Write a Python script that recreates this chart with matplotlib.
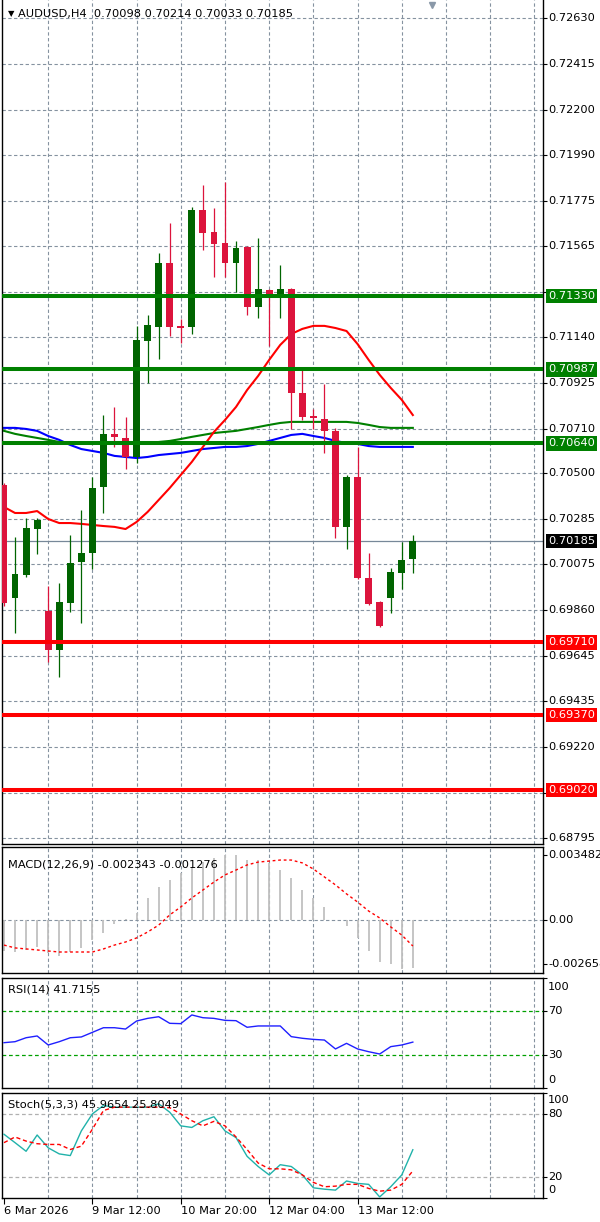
import matplotlib
matplotlib.use('Agg')
import matplotlib.pyplot as plt
import numpy as np

# ---------------- data (AUDUSD H4, 38 bars) ----------------
opens = [0.70446, 0.69918, 0.70025, 0.70240, 0.69857, 0.69674, 0.69894, 0.70086,
         0.70128, 0.70437, 0.70685, 0.70666, 0.70577, 0.71120, 0.71185, 0.71484,
         0.71190, 0.71185, 0.71732, 0.71629, 0.71578, 0.71484, 0.71559, 0.71278,
         0.71358, 0.71335, 0.71363, 0.70876, 0.70769, 0.70755, 0.70699, 0.70250,
         0.70483, 0.70011, 0.69899, 0.69918, 0.70035, 0.70098]
highs = [0.70455, 0.70203, 0.70292, 0.70292, 0.69974, 0.69988, 0.70212, 0.70329,
         0.70483, 0.70773, 0.70811, 0.70764, 0.71190, 0.71241, 0.71531, 0.71671,
         0.71222, 0.71746, 0.71849, 0.71741, 0.71863, 0.71587, 0.71562, 0.71601,
         0.71362, 0.71475, 0.71366, 0.70993, 0.70801, 0.70918, 0.70713, 0.70493,
         0.70624, 0.70128, 0.69902, 0.70058, 0.70180, 0.70214]
lows = [0.69880, 0.69754, 0.70016, 0.70123, 0.69618, 0.69548, 0.69852, 0.69801,
        0.70053, 0.70315, 0.70624, 0.70521, 0.70549, 0.70923, 0.71035, 0.71143,
        0.71110, 0.71152, 0.71545, 0.71419, 0.71419, 0.71349, 0.71241, 0.71227,
        0.71096, 0.71227, 0.70708, 0.70750, 0.70708, 0.70596, 0.70198, 0.70147,
        0.70005, 0.69885, 0.69782, 0.69847, 0.69960, 0.70033]
closes = [0.69894, 0.70030, 0.70245, 0.70282, 0.69674, 0.69899, 0.70081, 0.70128,
          0.70432, 0.70685, 0.70670, 0.70577, 0.71124, 0.71194, 0.71484, 0.71185,
          0.71180, 0.71732, 0.71625, 0.71573, 0.71484, 0.71554, 0.71278, 0.71363,
          0.71335, 0.71363, 0.70876, 0.70764, 0.70759, 0.70699, 0.70250, 0.70483,
          0.70011, 0.69890, 0.69787, 0.70039, 0.70095, 0.70185]

ma_red = [0.70343, 0.70315, 0.70315, 0.70324, 0.70287, 0.70268, 0.70268, 0.70264,
          0.70259, 0.70254, 0.70250, 0.70240, 0.70273, 0.70320, 0.70376, 0.70432,
          0.70493, 0.70554, 0.70624, 0.70694, 0.70750, 0.70811, 0.70890, 0.70956,
          0.71031, 0.71101, 0.71152, 0.71176, 0.71190, 0.71190, 0.71180, 0.71166,
          0.71105, 0.71031, 0.70961, 0.70900, 0.70844, 0.70773]
ma_blue = [0.70713, 0.70713, 0.70708, 0.70699, 0.70675, 0.70657, 0.70633, 0.70614,
           0.70605, 0.70596, 0.70582, 0.70577, 0.70572, 0.70577, 0.70586, 0.70591,
           0.70596, 0.70605, 0.70614, 0.70619, 0.70624, 0.70624, 0.70628, 0.70638,
           0.70652, 0.70666, 0.70680, 0.70685, 0.70675, 0.70666, 0.70652, 0.70642,
           0.70638, 0.70628, 0.70624, 0.70624, 0.70624, 0.70624]
ma_green = [0.70699, 0.70685, 0.70675, 0.70666, 0.70657, 0.70647, 0.70642, 0.70642,
            0.70638, 0.70638, 0.70638, 0.70638, 0.70642, 0.70642, 0.70647, 0.70652,
            0.70661, 0.70671, 0.70680, 0.70689, 0.70694, 0.70699, 0.70708, 0.70717,
            0.70727, 0.70736, 0.70741, 0.70741, 0.70741, 0.70741, 0.70741, 0.70741,
            0.70736, 0.70727, 0.70717, 0.70713, 0.70713, 0.70713]

levels_res = [0.71330, 0.70987, 0.70640]
levels_sup = [0.69710, 0.69370, 0.69020]
bid = 0.70185

price_grid = [0.72630, 0.72415, 0.72200, 0.71990, 0.71775, 0.71565, 0.71350, 0.71140,
              0.70925, 0.70710, 0.70500, 0.70285, 0.70075, 0.69860, 0.69645, 0.69435,
              0.69220, 0.69005, 0.68795]
hidden_labels = [0.71350, 0.69005]

macd_hist = [-0.00152, -0.00157, -0.00147, -0.00132, -0.00162, -0.00177, -0.00157, -0.00137,
             -0.00098, -0.00064, -0.00020, 0.00003, 0.00034, 0.00108, 0.00162, 0.00196,
             0.00231, 0.00260, 0.00284, 0.00304, 0.00319, 0.00319, 0.00294, 0.00294,
             0.00280, 0.00245, 0.00206, 0.00147, 0.00108, 0.00064, 0.00002, -0.00029,
             -0.00088, -0.00152, -0.00206, -0.00216, -0.00238, -0.002343]
macd_signal = [-0.00123, -0.00137, -0.00142, -0.00147, -0.00152, -0.00157, -0.00157, -0.00157,
               -0.00157, -0.00142, -0.00123, -0.00108, -0.00088, -0.00059, -0.00025, 0.00025,
               0.00064, 0.00108, 0.00147, 0.00186, 0.00221, 0.00245, 0.00270, 0.00284,
               0.00289, 0.00294, 0.00294, 0.00280, 0.00250, 0.00211, 0.00172, 0.00128,
               0.00088, 0.00044, 0.00010, -0.00034, -0.00074, -0.001276]

rsi = [41.2, 42.1, 45.7, 47.3, 39.1, 42.1, 45.7, 46.4, 50.6, 54.8, 54.8, 53.6, 60.9,
       63.3, 64.8, 58.8, 58.5, 66.4, 63.9, 63.3, 61.5, 61.2, 55.2, 56.4, 56.4, 56.4,
       46.7, 45.2, 44.2, 43.6, 35.5, 40.6, 35.5, 33.0, 30.9, 37.6, 39.1, 41.7155]

stoch_k = [60.7, 52.7, 44.5, 60.0, 47.8, 42.0, 40.4, 63.9, 80.1, 88.1, 86.5, 86.5, 86.5,
           86.5, 89.7, 81.7, 68.7, 67.2, 73.6, 77.4, 63.9, 57.5, 39.7, 30.0, 22.0, 31.7,
           30.0, 22.0, 9.7, 8.4, 7.5, 16.2, 13.9, 13.0, 1.0, 10.7, 22.0, 45.9654]
stoch_d = [52.7, 58.1, 54.2, 51.7, 51.0, 51.0, 46.2, 49.4, 65.5, 83.3, 86.5, 86.5, 86.5,
           86.5, 86.5, 86.0, 80.0, 73.6, 68.7, 73.0, 68.7, 58.1, 46.2, 33.3, 27.8, 27.8,
           26.8, 22.0, 14.9, 10.7, 11.3, 13.0, 13.0, 9.1, 6.5, 7.5, 13.0, 25.8049]

date_ticks = [0, 8, 16, 24, 32]
date_labels = ['6 Mar 2026', '9 Mar 12:00', '10 Mar 20:00', '12 Mar 04:00', '13 Mar 12:00']

# ---------------- layout ----------------
W, H = 600, 1222
fig = plt.figure(figsize=(W / 100, H / 100), dpi=100)
fig.patch.set_facecolor('white')
plt.rcParams['font.family'] = 'DejaVu Sans'

GRID = '#8592a0'
BULL, BEAR = '#006400', '#dc143c'
FS = 8.2
XL = (-0.18, 48.78)
xs = np.arange(len(closes))


def pane(top, bottom):
    a = fig.add_axes([2 / W, 1 - bottom / H, 541 / W, (bottom - top) / H])
    a.set_xlim(*XL)
    a.set_xticks([])
    a.yaxis.tick_right()
    a.tick_params(axis='y', length=3, width=0.8, labelright=False, right=True)
    for s in a.spines.values():
        s.set_color('black')
        s.set_linewidth(1)
    for v in range(4, 49, 4):
        a.axvline(v, color=GRID, lw=0.8, dashes=(3, 2.2), zorder=0)
    return a


def rlabel(a, y, txt, **kw):
    a.text(1.0092, y, txt, transform=a.get_yaxis_transform(), ha='left', va='center',
           fontsize=FS, clip_on=False, **kw)


# ---------------- main price pane ----------------
ax = pane(0, 844)
ax.set_ylim(0.68767, 0.72714)
ax.spines['top'].set_visible(False)
for g in price_grid:
    ax.axhline(g, color=GRID, lw=0.8, dashes=(3, 2.2), zorder=0)
ax.set_yticks(price_grid)
for g in price_grid:
    if g not in hidden_labels:
        rlabel(ax, g, f'{g:.5f}', color='black')

# moving averages
ax.plot(xs, ma_green, color='#008000', lw=1.5, zorder=2)
ax.plot(xs, ma_blue, color='#0000ff', lw=1.5, zorder=2)
ax.plot(xs, ma_red, color='#ff0000', lw=1.5, zorder=2)

# candles
for i in xs:
    o, h, l, c = opens[i], highs[i], lows[i], closes[i]
    col = BULL if c >= o else BEAR
    ax.vlines(i, l, h, color=col, lw=0.9, zorder=3)
    body = max(abs(c - o), 0.00005)
    ax.bar(i, body, bottom=min(o, c), width=0.62, color=col, lw=0, zorder=4)

# horizontal levels
for lv in levels_res:
    ax.axhline(lv, color='#008000', lw=2.9, zorder=5)
    rlabel(ax, lv, f'{lv:.5f}', color='white',
           bbox=dict(boxstyle='square,pad=0.2', fc='#008000', ec='none'))
for lv in levels_sup:
    ax.axhline(lv, color='#ff0000', lw=2.9, zorder=5)
    rlabel(ax, lv, f'{lv:.5f}', color='white',
           bbox=dict(boxstyle='square,pad=0.2', fc='#ff0000', ec='none'))

ax.axhline(bid, color='#778899', lw=0.9, zorder=1)
rlabel(ax, bid, f'{bid:.5f}', color='white',
       bbox=dict(boxstyle='square,pad=0.2', fc='black', ec='none'))

ax.text(0.011, 1 - 14 / 844, '\u25bc', transform=ax.transAxes, fontsize=6,
        va='center', ha='left', color='black')
ax.text(0.030, 1 - 14 / 844,
        f'AUDUSD,H4  {opens[-1]:.5f} {highs[-1]:.5f} {lows[-1]:.5f} {closes[-1]:.5f}',
        transform=ax.transAxes, fontsize=FS, va='center', ha='left', color='black')
ax.plot([38.7], [1 - 5 / 844], transform=ax.get_xaxis_transform(), marker='v',
        color='#8a98a8', ms=5, clip_on=False, zorder=6)

# ---------------- MACD ----------------
am = pane(847, 973)
am.set_ylim(-0.00260, 0.00358)
am.axhline(0, color=GRID, lw=0.8, dashes=(3, 2.2), zorder=0)
am.vlines(xs, 0, macd_hist, color='#c0c0c0', lw=1.3, zorder=2)
am.plot(xs, macd_signal, color='#ff0000', lw=1.0, ls=(0, (2, 2)), zorder=3)
am.set_yticks([0.00319, 0, -0.00216])
rlabel(am, 0.00319, '0.003482', color='black')
rlabel(am, 0.0, '0.00', color='black')
rlabel(am, -0.00216, '-0.002658', color='black')
am.text(0.011, 0.86, f'MACD(12,26,9) {macd_hist[-1]:.6f} {macd_signal[-1]:.6f}',
        transform=am.transAxes, fontsize=FS, va='center', ha='left')

# ---------------- RSI ----------------
ar = pane(978, 1088)
ar.set_ylim(0, 100)
for lv in (70, 30):
    ar.axhline(lv, color='#00a000', lw=0.9, dashes=(3, 2.2), zorder=1)
ar.plot(xs, rsi, color='#1f1fff', lw=1.0, zorder=3)
ar.set_yticks([100, 70, 30, 0])
for val, pos in ((100, 91.8), (70, 70), (30, 30), (0, 7.3)):
    rlabel(ar, pos, str(val), color='black')
ar.text(0.011, 0.9, f'RSI(14) {rsi[-1]:.4f}', transform=ar.transAxes,
        fontsize=FS, va='center', ha='left')

# ---------------- Stochastic ----------------
ast = pane(1093, 1198)
ast.set_ylim(0, 100)
for lv in (80, 20):
    ast.axhline(lv, color='#b0b0b0', lw=0.9, dashes=(3, 2.2), zorder=1)
ast.plot(xs, stoch_k, color='#20b2aa', lw=1.0, zorder=3)
ast.plot(xs, stoch_d, color='#ff0000', lw=1.0, ls=(0, (3, 2)), zorder=3)
ast.set_yticks([100, 80, 20, 0])
for val, pos in ((100, 93.5), (80, 80), (20, 20), (0, 7.4)):
    rlabel(ast, pos, str(val), color='black')
ast.text(0.011, 0.89, f'Stoch(5,3,3) {stoch_k[-1]:.4f} {stoch_d[-1]:.4f}',
         transform=ast.transAxes, fontsize=FS, va='center', ha='left')

ast.set_xticks(date_ticks)
ast.set_xticklabels(date_labels, ha='left', fontsize=FS)
ast.tick_params(axis='x', length=4, width=0.8, pad=2, direction='out')

fig.savefig('out.png', dpi=100, facecolor='white')
